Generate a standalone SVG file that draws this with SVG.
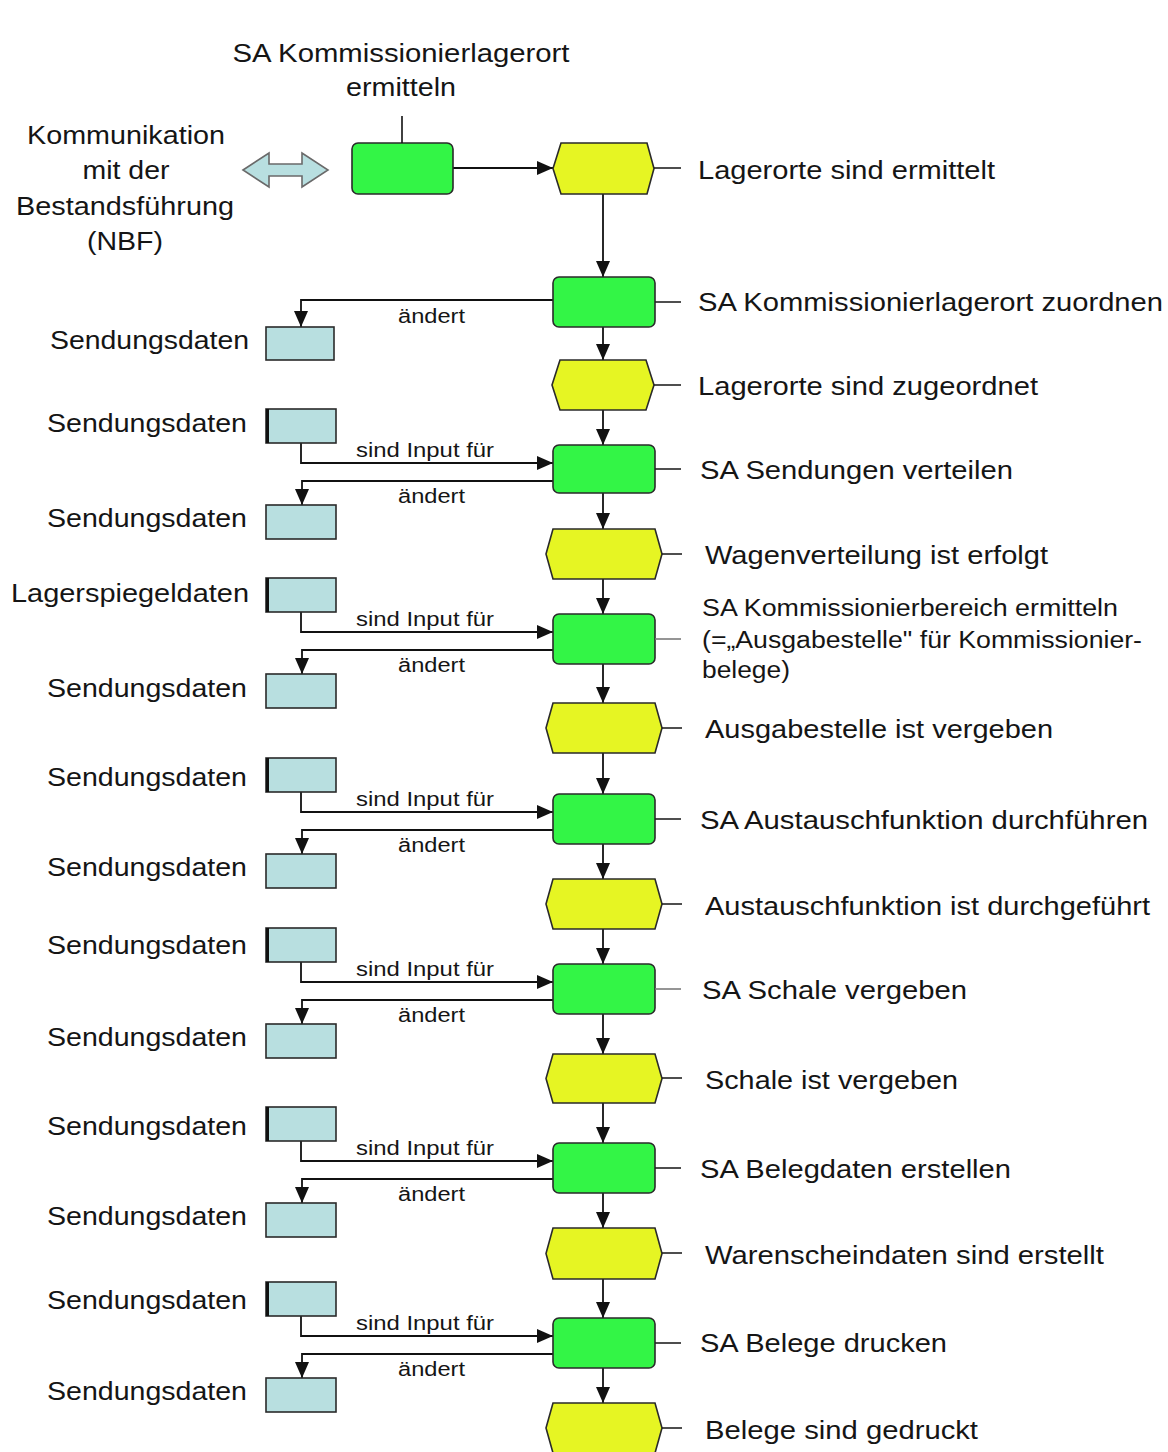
<svg xmlns="http://www.w3.org/2000/svg" width="1168" height="1452" viewBox="0 0 1168 1452">
  <style>
    text { font-family: "Liberation Sans", Arial, sans-serif; fill: #151515; }
    .lbl { font-size: 26px; }
    .lbl-s { font-size: 23px; }
    .rel { font-size: 20px; }
    .fn { fill: #33f546; stroke: #2a2a2a; stroke-width: 1.6; }
    .ev { fill: #e6f523; stroke: #2a2a2a; stroke-width: 1.6; }
    .dt { fill: #b8dfe0; stroke: #2a2a2a; stroke-width: 1.6; }
    .dt-edge { stroke: #111; stroke-width: 3; }
    .tick { stroke: #222; stroke-width: 1.6; fill: none; }
    .tick-g { stroke: #7a7a7a; stroke-width: 1.6; fill: none; }
    .flow { stroke: #111; stroke-width: 1.8; fill: none; marker-end: url(#head); }
    .line { stroke: #111; stroke-width: 1.6; fill: none; }
  </style>
  <defs>
    <marker id="head" markerUnits="userSpaceOnUse" markerWidth="16" markerHeight="14" refX="16" refY="7" orient="auto">
      <path d="M0,0 L16,7 L0,14 z" fill="#111"/>
    </marker>
  </defs>
  <rect width="1168" height="1452" fill="#ffffff"/>

  <!-- connectors -->
  <g id="connectors">
    <!-- main control flow -->
    <path class="flow" d="M453,168 H553"/>
    <path class="flow" d="M603,194 V277"/>
    <path class="flow" d="M603,327 V360"/>
    <path class="flow" d="M603,410 V445"/>
    <path class="flow" d="M603,493 V529"/>
    <path class="flow" d="M603,579 V614"/>
    <path class="flow" d="M603,664 V703"/>
    <path class="flow" d="M603,753 V794"/>
    <path class="flow" d="M603,844 V879"/>
    <path class="flow" d="M603,929 V964"/>
    <path class="flow" d="M603,1014 V1054"/>
    <path class="flow" d="M603,1103 V1143"/>
    <path class="flow" d="M603,1193 V1228"/>
    <path class="flow" d="M603,1279 V1318"/>
    <path class="flow" d="M603,1368 V1403"/>

    <!-- data flows: inputs -->
    <path class="flow" d="M301,443 V463 H553"/>
    <path class="flow" d="M301,612 V632 H553"/>
    <path class="flow" d="M301,792 V812 H553"/>
    <path class="flow" d="M301,962 V982 H553"/>
    <path class="flow" d="M301,1141 V1161 H553"/>
    <path class="flow" d="M301,1316 V1336 H553"/>

    <!-- data flows: outputs -->
    <path class="flow" d="M553,300 H301 V327"/>
    <path class="flow" d="M553,481 H302 V505"/>
    <path class="flow" d="M553,650 H302 V674"/>
    <path class="flow" d="M553,830 H302 V854"/>
    <path class="flow" d="M553,1000 H302 V1024"/>
    <path class="flow" d="M553,1179 H302 V1203"/>
    <path class="flow" d="M553,1354 H302 V1378"/>

    <!-- relation labels -->
    <text class="rel" x="398" y="323" textLength="67" lengthAdjust="spacingAndGlyphs">ändert</text>
    <text class="rel" x="356" y="457" textLength="138" lengthAdjust="spacingAndGlyphs">sind Input für</text>
    <text class="rel" x="398" y="503" textLength="67" lengthAdjust="spacingAndGlyphs">ändert</text>
    <text class="rel" x="356" y="626" textLength="138" lengthAdjust="spacingAndGlyphs">sind Input für</text>
    <text class="rel" x="398" y="672" textLength="67" lengthAdjust="spacingAndGlyphs">ändert</text>
    <text class="rel" x="356" y="806" textLength="138" lengthAdjust="spacingAndGlyphs">sind Input für</text>
    <text class="rel" x="398" y="852" textLength="67" lengthAdjust="spacingAndGlyphs">ändert</text>
    <text class="rel" x="356" y="976" textLength="138" lengthAdjust="spacingAndGlyphs">sind Input für</text>
    <text class="rel" x="398" y="1022" textLength="67" lengthAdjust="spacingAndGlyphs">ändert</text>
    <text class="rel" x="356" y="1155" textLength="138" lengthAdjust="spacingAndGlyphs">sind Input für</text>
    <text class="rel" x="398" y="1201" textLength="67" lengthAdjust="spacingAndGlyphs">ändert</text>
    <text class="rel" x="356" y="1330" textLength="138" lengthAdjust="spacingAndGlyphs">sind Input für</text>
    <text class="rel" x="398" y="1376" textLength="67" lengthAdjust="spacingAndGlyphs">ändert</text>
  </g>

  <!-- interface to stock management -->
  <g id="nbf">
    <polygon points="243,170 269,153 269,164 302,164 302,153 328,170 302,187 302,176 269,176 269,187" fill="#b8dfe0" stroke="#6a6a6a" stroke-width="1.6"/>
    <text class="lbl" x="126" y="144" text-anchor="middle" textLength="198" lengthAdjust="spacingAndGlyphs">Kommunikation</text>
    <text class="lbl" x="126" y="179" text-anchor="middle" textLength="87" lengthAdjust="spacingAndGlyphs">mit der</text>
    <text class="lbl" x="125" y="215" text-anchor="middle" textLength="218" lengthAdjust="spacingAndGlyphs">Bestandsführung</text>
    <text class="lbl" x="125" y="250" text-anchor="middle" textLength="76" lengthAdjust="spacingAndGlyphs">(NBF)</text>
  </g>

  <!-- functions -->
  <g id="f1">
    <rect class="fn" x="352" y="143" width="101" height="51" rx="6"/>
    <line class="line" x1="402" y1="116" x2="402" y2="143"/>
    <text class="lbl" x="401" y="62" text-anchor="middle" textLength="337" lengthAdjust="spacingAndGlyphs">SA Kommissionierlagerort</text>
    <text class="lbl" x="401" y="96" text-anchor="middle" textLength="110" lengthAdjust="spacingAndGlyphs">ermitteln</text>
  </g>
  <g id="f2">
    <rect class="fn" x="553" y="277" width="102" height="50" rx="6"/>
    <line class="tick" x1="655" y1="302" x2="681" y2="302"/>
    <text class="lbl" x="698" y="311" textLength="465" lengthAdjust="spacingAndGlyphs">SA Kommissionierlagerort zuordnen</text>
  </g>
  <g id="f3">
    <rect class="fn" x="553" y="445" width="102" height="48" rx="6"/>
    <line class="tick" x1="655" y1="469" x2="681" y2="469"/>
    <text class="lbl" x="700" y="479" textLength="313" lengthAdjust="spacingAndGlyphs">SA Sendungen verteilen</text>
  </g>
  <g id="f4">
    <rect class="fn" x="553" y="614" width="102" height="50" rx="6"/>
    <line class="tick-g" x1="655" y1="639" x2="681" y2="639"/>
    <text class="lbl-s" x="702" y="616" textLength="416" lengthAdjust="spacingAndGlyphs">SA Kommissionierbereich ermitteln</text>
    <text class="lbl-s" x="702" y="648" textLength="440" lengthAdjust="spacingAndGlyphs">(=„Ausgabestelle" für Kommissionier-</text>
    <text class="lbl-s" x="702" y="678" textLength="88" lengthAdjust="spacingAndGlyphs">belege)</text>
  </g>
  <g id="f5">
    <rect class="fn" x="553" y="794" width="102" height="50" rx="6"/>
    <line class="tick" x1="655" y1="819" x2="681" y2="819"/>
    <text class="lbl" x="700" y="829" textLength="448" lengthAdjust="spacingAndGlyphs">SA Austauschfunktion durchführen</text>
  </g>
  <g id="f6">
    <rect class="fn" x="553" y="964" width="102" height="50" rx="6"/>
    <line class="tick-g" x1="655" y1="989" x2="681" y2="989"/>
    <text class="lbl" x="702" y="999" textLength="265" lengthAdjust="spacingAndGlyphs">SA Schale vergeben</text>
  </g>
  <g id="f7">
    <rect class="fn" x="553" y="1143" width="102" height="50" rx="6"/>
    <line class="tick" x1="655" y1="1168" x2="681" y2="1168"/>
    <text class="lbl" x="700" y="1178" textLength="311" lengthAdjust="spacingAndGlyphs">SA Belegdaten erstellen</text>
  </g>
  <g id="f8">
    <rect class="fn" x="553" y="1318" width="102" height="50" rx="6"/>
    <line class="tick" x1="655" y1="1343" x2="681" y2="1343"/>
    <text class="lbl" x="700" y="1352" textLength="247" lengthAdjust="spacingAndGlyphs">SA Belege drucken</text>
  </g>

  <!-- events -->
  <g id="e1">
    <polygon class="ev" points="561,143 647,143 654,168.5 647,194 561,194 553,168.5"/>
    <line class="tick" x1="654" y1="168" x2="681" y2="168"/>
    <text class="lbl" x="698" y="179" textLength="297" lengthAdjust="spacingAndGlyphs">Lagerorte sind ermittelt</text>
  </g>
  <g id="e2">
    <polygon class="ev" points="560,360 646,360 654,385 646,410 560,410 552,385"/>
    <line class="tick" x1="654" y1="385" x2="681" y2="385"/>
    <text class="lbl" x="698" y="395" textLength="340" lengthAdjust="spacingAndGlyphs">Lagerorte sind zugeordnet</text>
  </g>
  <g id="e3">
    <polygon class="ev" points="553,529 655,529 662,554 655,579 553,579 546,554"/>
    <line class="tick" x1="662" y1="554" x2="682" y2="554"/>
    <text class="lbl" x="705" y="564" textLength="343" lengthAdjust="spacingAndGlyphs">Wagenverteilung ist erfolgt</text>
  </g>
  <g id="e4">
    <polygon class="ev" points="553,703 655,703 662,728 655,753 553,753 546,728"/>
    <line class="tick" x1="662" y1="728" x2="682" y2="728"/>
    <text class="lbl" x="705" y="738" textLength="348" lengthAdjust="spacingAndGlyphs">Ausgabestelle ist vergeben</text>
  </g>
  <g id="e5">
    <polygon class="ev" points="553,879 655,879 662,904 655,929 553,929 546,904"/>
    <line class="tick" x1="662" y1="904" x2="682" y2="904"/>
    <text class="lbl" x="705" y="915" textLength="445" lengthAdjust="spacingAndGlyphs">Austauschfunktion ist durchgeführt</text>
  </g>
  <g id="e6">
    <polygon class="ev" points="553,1054 655,1054 662,1078.5 655,1103 553,1103 546,1078.5"/>
    <line class="tick" x1="662" y1="1078" x2="682" y2="1078"/>
    <text class="lbl" x="705" y="1089" textLength="253" lengthAdjust="spacingAndGlyphs">Schale ist vergeben</text>
  </g>
  <g id="e7">
    <polygon class="ev" points="553,1228 655,1228 662,1253.5 655,1279 553,1279 546,1253.5"/>
    <line class="tick" x1="662" y1="1253" x2="682" y2="1253"/>
    <text class="lbl" x="705" y="1264" textLength="399" lengthAdjust="spacingAndGlyphs">Warenscheindaten sind erstellt</text>
  </g>
  <g id="e8">
    <polygon class="ev" points="553,1403 655,1403 662,1428 655,1453 553,1453 546,1428"/>
    <line class="tick" x1="662" y1="1428" x2="682" y2="1428"/>
    <text class="lbl" x="705" y="1439" textLength="273" lengthAdjust="spacingAndGlyphs">Belege sind gedruckt</text>
  </g>

  <!-- data objects -->
  <g id="d2-out">
    <rect class="dt" x="266" y="327" width="68" height="33"/>
    <text class="lbl" x="249" y="349" text-anchor="end" textLength="199" lengthAdjust="spacingAndGlyphs">Sendungsdaten</text>
  </g>
  <g id="d3-in">
    <rect class="dt" x="266" y="409" width="70" height="34"/>
    <line class="dt-edge" x1="267.5" y1="409" x2="267.5" y2="443"/>
    <text class="lbl" x="247" y="432" text-anchor="end" textLength="200" lengthAdjust="spacingAndGlyphs">Sendungsdaten</text>
  </g>
  <g id="d3-out">
    <rect class="dt" x="266" y="505" width="70" height="34"/>
    <text class="lbl" x="247" y="527" text-anchor="end" textLength="200" lengthAdjust="spacingAndGlyphs">Sendungsdaten</text>
  </g>
  <g id="d4-in">
    <rect class="dt" x="266" y="578" width="70" height="34"/>
    <line class="dt-edge" x1="267.5" y1="578" x2="267.5" y2="612"/>
    <text class="lbl" x="249" y="602" text-anchor="end" textLength="238" lengthAdjust="spacingAndGlyphs">Lagerspiegeldaten</text>
  </g>
  <g id="d4-out">
    <rect class="dt" x="266" y="674" width="70" height="34"/>
    <text class="lbl" x="247" y="697" text-anchor="end" textLength="200" lengthAdjust="spacingAndGlyphs">Sendungsdaten</text>
  </g>
  <g id="d5-in">
    <rect class="dt" x="266" y="758" width="70" height="34"/>
    <line class="dt-edge" x1="267.5" y1="758" x2="267.5" y2="792"/>
    <text class="lbl" x="247" y="786" text-anchor="end" textLength="200" lengthAdjust="spacingAndGlyphs">Sendungsdaten</text>
  </g>
  <g id="d5-out">
    <rect class="dt" x="266" y="854" width="70" height="34"/>
    <text class="lbl" x="247" y="876" text-anchor="end" textLength="200" lengthAdjust="spacingAndGlyphs">Sendungsdaten</text>
  </g>
  <g id="d6-in">
    <rect class="dt" x="266" y="928" width="70" height="34"/>
    <line class="dt-edge" x1="267.5" y1="928" x2="267.5" y2="962"/>
    <text class="lbl" x="247" y="954" text-anchor="end" textLength="200" lengthAdjust="spacingAndGlyphs">Sendungsdaten</text>
  </g>
  <g id="d6-out">
    <rect class="dt" x="266" y="1024" width="70" height="34"/>
    <text class="lbl" x="247" y="1046" text-anchor="end" textLength="200" lengthAdjust="spacingAndGlyphs">Sendungsdaten</text>
  </g>
  <g id="d7-in">
    <rect class="dt" x="266" y="1107" width="70" height="34"/>
    <line class="dt-edge" x1="267.5" y1="1107" x2="267.5" y2="1141"/>
    <text class="lbl" x="247" y="1135" text-anchor="end" textLength="200" lengthAdjust="spacingAndGlyphs">Sendungsdaten</text>
  </g>
  <g id="d7-out">
    <rect class="dt" x="266" y="1203" width="70" height="34"/>
    <text class="lbl" x="247" y="1225" text-anchor="end" textLength="200" lengthAdjust="spacingAndGlyphs">Sendungsdaten</text>
  </g>
  <g id="d8-in">
    <rect class="dt" x="266" y="1282" width="70" height="34"/>
    <line class="dt-edge" x1="267.5" y1="1282" x2="267.5" y2="1316"/>
    <text class="lbl" x="247" y="1309" text-anchor="end" textLength="200" lengthAdjust="spacingAndGlyphs">Sendungsdaten</text>
  </g>
  <g id="d8-out">
    <rect class="dt" x="266" y="1378" width="70" height="34"/>
    <text class="lbl" x="247" y="1400" text-anchor="end" textLength="200" lengthAdjust="spacingAndGlyphs">Sendungsdaten</text>
  </g>
</svg>
